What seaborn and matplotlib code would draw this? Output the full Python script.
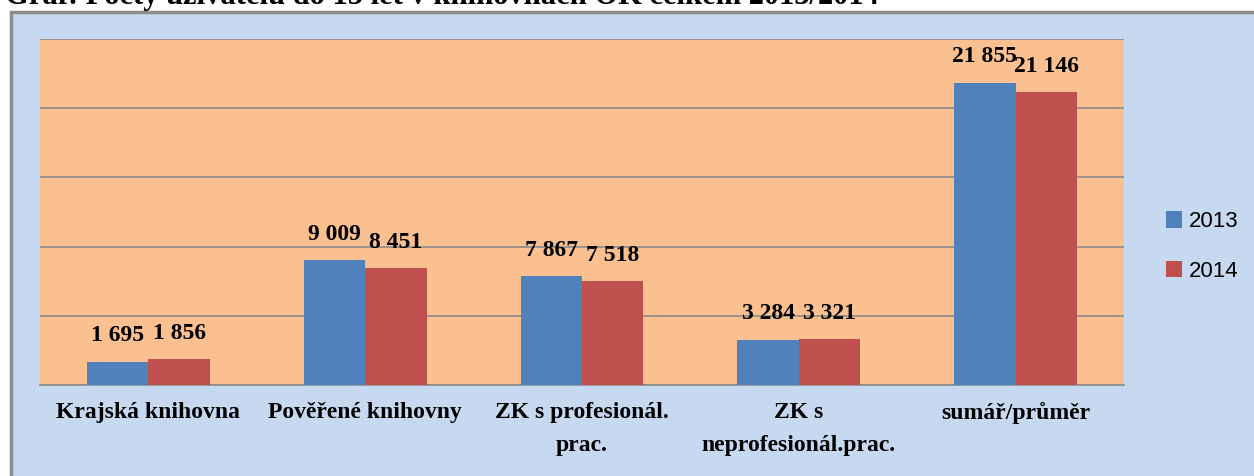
import numpy as np
import pandas as pd
import seaborn as sns
import matplotlib.pyplot as plt
from matplotlib.patches import Rectangle

# Data
categories = ["Krajská knihovna", "Pověřené knihovny", "ZK s profesionál.\nprac.",
              "ZK s\nneprofesionál.prac.", "sumář/průměr"]
years = ["2013", "2014"]
values_2013 = [1695, 9009, 7867, 3284, 21855]
values_2014 = [1856, 8451, 7518, 3321, 21146]

df = pd.DataFrame({
    "kategorie": categories * 2,
    "rok": [years[0]] * len(categories) + [years[1]] * len(categories),
    "pocet": values_2013 + values_2014,
})

sns.set_style("white")
plt.rcParams['font.family'] = ['Liberation Serif', 'DejaVu Serif']
plt.rcParams['text.color'] = 'black'

fig = plt.figure(figsize=(12.54, 4.76), dpi=100)
fig.patch.set_facecolor("white")

# outer chart frame
fig.patches.append(Rectangle((11 / 1254, -0.01), 1.02, 1 - 12 / 476 + 0.01,
                             transform=fig.transFigure, facecolor="#C6D9F0",
                             edgecolor="#8C8C8C", linewidth=2.5, zorder=-5))

# title, clipped at the very top as in the original
fig.text(0.004, 1 + 4 / 476, "Graf: Počty uživatelů do 15 let v knihovnách OK celkem 2013/2014",
         ha="left", va="center", fontsize=22, fontweight="bold", color="black")

ax = fig.add_axes([40 / 1254, 1 - 385 / 476, (1124 - 40) / 1254, (385 - 39) / 476])
ax.set_facecolor("#FAC090")

sns.barplot(data=df, x="kategorie", y="pocet", hue="rok",
            palette=["#4F81BD", "#C0504D"], width=0.566, saturation=1,
            linewidth=0, edgecolor="none", ax=ax, zorder=3)

ax.set_ylim(0, 25000)
ax.set_yticks(np.arange(0, 25001, 5000))
ax.yaxis.grid(True, color="#8C8C8C", linewidth=1.2, zorder=0)
ax.set_axisbelow(True)
ax.set_yticklabels([])
ax.tick_params(axis="y", length=0)
ax.set_xlim(-0.5, len(categories) - 0.5)
ax.set_xlabel("")
ax.set_ylabel("")

for side in ["top", "right", "left"]:
    ax.spines[side].set_visible(False)
ax.spines["bottom"].set_color("#8C8C8C")
ax.spines["bottom"].set_linewidth(1.2)

# ticks at category boundaries
ax.set_xticks(np.arange(-0.5, len(categories), 1), minor=True)
ax.tick_params(axis="x", which="minor", length=8, color="#8C8C8C", width=1)
ax.tick_params(axis="x", which="major", length=0, pad=12, labelcolor="black")
ax.set_xticklabels(categories, fontsize=17, fontweight="bold", linespacing=1.75)

# value labels
for container in ax.containers:
    ax.bar_label(container,
                 labels=[f"{int(v):,}".replace(",", " ") for v in container.datavalues],
                 padding=11, fontsize=17, fontweight="bold", color="black")

leg = ax.legend(loc="center left", bbox_to_anchor=(1.02, 0.40), frameon=False,
                prop={"family": "Liberation Sans", "size": 16},
                handlelength=0.75, handleheight=0.75, handletextpad=0.3,
                labelspacing=1.3)
for t in leg.get_texts():
    t.set_color("black")

fig.savefig("out.png", dpi=100, facecolor=fig.get_facecolor())
